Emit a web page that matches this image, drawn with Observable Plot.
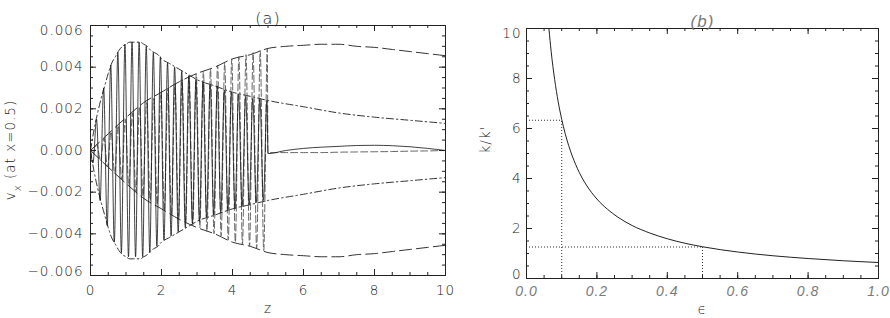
<!DOCTYPE html>
<html><head><meta charset="utf-8">
<script src="https://cdn.jsdelivr.net/npm/d3@7"></script>
<script src="https://cdn.jsdelivr.net/npm/@observablehq/plot@0.6"></script>
<style>
html,body{margin:0;padding:0;background:#fff;width:890px;height:318px;overflow:hidden}
#a{position:absolute;left:0;top:0}
#b{position:absolute;left:470px;top:0}
</style></head><body>
<div id="a"></div><div id="b"></div>
<script>
// ---------- Panel (a) data ----------
// solid oscillation (extrema)
const solidZ = [0, 0.07, 0.17, 0.27, 0.37, 0.47, 0.57, 0.67, 0.77, 0.87, 0.97, 1.07, 1.17, 1.27, 1.37, 1.47, 1.57, 1.67, 1.77, 1.87, 1.97, 2.07, 2.17, 2.27, 2.37, 2.47, 2.57, 2.67, 2.77, 2.87, 2.97, 3.07, 3.17, 3.27, 3.37, 3.47, 3.57, 3.67, 3.77, 3.87, 3.97, 4.07, 4.17, 4.27, 4.37, 4.47, 4.57, 4.67, 4.77, 4.87, 4.97];
const solidV = [0, -0.0006, 0.0015, -0.0024, 0.0030, -0.0036, 0.0041, -0.0044, 0.0047, -0.0049, 0.0051, -0.0051, 0.0052, -0.0051, 0.0052, -0.0051, 0.0050, -0.0049, 0.0047, -0.0046, 0.0045, -0.0043, 0.0042, -0.0041, 0.0040, -0.0039, 0.0038, -0.0037, 0.0036, -0.0035, 0.0034, -0.0034, 0.0033, -0.0032, 0.0032, -0.0031, 0.0031, -0.0030, 0.0029, -0.0029, 0.0028, -0.0028, 0.0027, -0.0027, 0.0026, -0.0026, 0.0025, -0.0025, 0.0025, -0.0024, 0.0024];
// dashed oscillation
const dashedZ = [0, 0.08, 0.18, 0.28, 0.38, 0.48, 0.58, 0.68, 0.78, 0.88, 0.98, 1.08, 1.18, 1.28, 1.38, 1.48, 1.58, 1.68, 1.78, 1.88, 1.98, 2.08, 2.18, 2.28, 2.38, 2.48, 2.58, 2.68, 2.78, 2.88, 2.98, 3.08, 3.18, 3.28, 3.38, 3.48, 3.58, 3.68, 3.78, 3.88, 3.98, 4.08, 4.18, 4.28, 4.38, 4.48, 4.58, 4.68, 4.78, 4.88, 4.98];
const dashedV = [0, -0.0001, 0.0003, -0.0005, 0.0006, -0.0008, 0.0009, -0.0011, 0.0012, -0.0014, 0.0015, -0.0017, 0.0018, -0.0020, 0.0021, -0.0022, 0.0023, -0.0024, 0.0025, -0.0026, 0.0028, -0.0029, 0.0030, -0.0031, 0.0032, -0.0033, 0.0034, -0.0035, 0.0035, -0.0036, 0.0037, -0.0037, 0.0038, -0.0039, 0.0039, -0.0040, 0.0041, -0.0041, 0.0042, -0.0043, 0.0044, -0.0044, 0.0045, -0.0045, 0.0046, -0.0046, 0.0047, -0.0047, 0.0048, -0.0048, 0.0049];
// tails beyond z = 5
const tailZ = [5.0, 5.5, 6.0, 6.5, 7.0, 7.5, 8.0, 8.5, 9.0, 9.5, 10.0];
const solidTailV = [-0.00015, 0.0, 0.0001, 0.00016, 0.0002, 0.00024, 0.00025, 0.00023, 0.00018, 0.0001, 0.0];
const dashedTailV = [-0.0001, -0.0001, -0.0001, -0.0001, -0.00008, -0.00007, -0.00006, -0.00005, -0.00003, -0.00002, 0.0];
// envelope A (dash-dot)
const envAZ = [0, 0.1, 0.2, 0.3, 0.4, 0.5, 0.6, 0.7, 0.8, 0.9, 1.0, 1.1, 1.2, 1.3, 1.4, 1.5, 1.6, 1.7, 1.8, 1.9, 2.0, 2.2, 2.4, 2.6, 2.8, 3.0, 3.5, 4.0, 4.5, 5.0, 6, 7, 8, 9, 10];
const envAV = [0, 0.0010, 0.0018, 0.0025, 0.0031, 0.0037, 0.0042, 0.0045, 0.0048, 0.0050, 0.0051, 0.0052, 0.0052, 0.0052, 0.0052, 0.0051, 0.0050, 0.0048, 0.0047, 0.0046, 0.0044, 0.0042, 0.0040, 0.0038, 0.0036, 0.0034, 0.0031, 0.0028, 0.0026, 0.0024, 0.0021, 0.0018, 0.0016, 0.00145, 0.0013];
// envelope B (long dash)
const envBZ = [0, 0.5, 1.0, 1.5, 2.0, 2.5, 3.0, 3.5, 4.0, 4.5, 5.0, 5.5, 6.0, 6.5, 7.0, 7.5, 8.0, 8.5, 9.0, 9.5, 10];
const envBV = [0, 0.0008, 0.00158, 0.0023, 0.0028, 0.0033, 0.0037, 0.0040, 0.0044, 0.0046, 0.0049, 0.0050, 0.00505, 0.0051, 0.0051, 0.0050, 0.00495, 0.00485, 0.00475, 0.00465, 0.00455];
// ticks (a)
const aXTicks = [0, 2, 4, 6, 8, 10];
const aXLabels = ["0", "2", "4", "6", "8", "10"];
const aYTicks = [-0.006, -0.004, -0.002, 0, 0.002, 0.004, 0.006];
const aYLabels = ["\u22120.006", "\u22120.004", "\u22120.002", "0.000", "0.002", "0.004", "0.006"];

// ---------- Panel (b) data ----------
const eps = [0.0637, 0.07, 0.08, 0.09, 0.10, 0.11, 0.12, 0.13, 0.14, 0.15, 0.17, 0.20, 0.23, 0.26, 0.30, 0.35, 0.40, 0.45, 0.50, 0.60, 0.70, 0.80, 0.90, 1.00];
const kRatio = [10.0, 9.09, 7.96, 7.07, 6.37, 5.79, 5.31, 4.90, 4.55, 4.24, 3.74, 3.18, 2.77, 2.45, 2.12, 1.82, 1.59, 1.41, 1.27, 1.06, 0.91, 0.80, 0.71, 0.64];
const markEps = [0.1, 0.5];
const markK = [6.33, 1.26];
const bXTicks = [0, 0.2, 0.4, 0.6, 0.8, 1.0];
const bXLabels = ["0.0", "0.2", "0.4", "0.6", "0.8", "1.0"];
const bYTicks = [0, 2, 4, 6, 8, 10];
const bYLabels = ["0", "2", "4", "6", "8", "10"];

// ---------- helpers ----------
const ink = "#222";
const txt = "#222";
const pts = (zs, vs) => zs.map((z, i) => ({z, v: vs[i]}));
function frameTicks(xMaj, xMin, yMaj, yMin, W, H) {
  const M = 6, m = 3, o = {stroke: ink, strokeWidth: 1};
  return [
    Plot.ruleX(xMaj, {x: d => d, insetTop: H - M, ...o}),
    Plot.ruleX(xMin, {x: d => d, insetTop: H - m, ...o}),
    Plot.ruleX(xMaj, {x: d => d, insetBottom: H - M, ...o}),
    Plot.ruleX(xMin, {x: d => d, insetBottom: H - m, ...o}),
    Plot.ruleY(yMaj, {y: d => d, insetRight: W - M, ...o}),
    Plot.ruleY(yMin, {y: d => d, insetRight: W - m, ...o}),
    Plot.ruleY(yMaj, {y: d => d, insetLeft: W - M, ...o}),
    Plot.ruleY(yMin, {y: d => d, insetLeft: W - m, ...o}),
    Plot.frame({stroke: ink, strokeWidth: 1})
  ];
}
const fontStyle = {fontFamily: "'DejaVu Sans', sans-serif", fontSize: "13.5px", fontWeight: "300", letterSpacing: "1px", background: "#fff", color: txt, overflow: "visible"};
const italicText = {fontFamily: "'Liberation Sans', sans-serif", fontStyle: "italic", fontWeight: "normal", fill: "#7a7a7a"};

// ---------- Panel (a) ----------
const aW = 470, aH = 318, aML = 90, aMR = 25, aMT = 25, aMB = 43;
const aPW = aW - aML - aMR, aPH = aH - aMT - aMB;
const aXMin = d3.range(0, 10.001, 0.5);
const aYMin = d3.range(-0.006, 0.00601, 0.0005);
const yMid = aYTicks.slice(1, -1);
const svgA = Plot.plot({
  width: aW, height: aH, marginLeft: aML, marginRight: aMR, marginTop: aMT, marginBottom: aMB,
  style: fontStyle,
  x: {domain: [0, 10], axis: null},
  y: {domain: [-0.006, 0.006], axis: null},
  marks: [
    Plot.line(pts(envAZ, envAV), {x: "z", y: "v", curve: "monotone-x", stroke: "#333", strokeWidth: 1, strokeDasharray: "7,3,1.5,3"}),
    Plot.line(pts(envAZ, envAV.map(v => -v)), {x: "z", y: "v", curve: "monotone-x", stroke: "#333", strokeWidth: 1, strokeDasharray: "7,3,1.5,3"}),
    Plot.line(pts(envBZ, envBV), {x: "z", y: "v", curve: "monotone-x", stroke: "#333", strokeWidth: 1, strokeDasharray: "12,5"}),
    Plot.line(pts(envBZ, envBV.map(v => -v)), {x: "z", y: "v", curve: "monotone-x", stroke: "#333", strokeWidth: 1, strokeDasharray: "12,5"}),
    Plot.line(pts(dashedZ, dashedV).concat(pts(tailZ, dashedTailV)), {x: "z", y: "v", curve: "monotone-x", stroke: "#555", strokeWidth: 0.9, strokeDasharray: "7,3"}),
    Plot.line(pts(solidZ, solidV).concat(pts(tailZ, solidTailV)), {x: "z", y: "v", curve: "monotone-x", stroke: "#111", strokeWidth: 0.8}),
    ...frameTicks(aXTicks, aXMin, aYTicks, aYMin, aPW, aPH),
    Plot.text(aXTicks, {x: d => d, text: (d, i) => aXLabels[i], frameAnchor: "bottom", dy: 19, fill: txt}),
    Plot.text(yMid, {y: d => d, text: (d, i) => aYLabels[i + 1], frameAnchor: "left", dx: -7, textAnchor: "end", fill: txt}),
    Plot.text([aYTicks[0]], {y: d => d, text: [aYLabels[0]], frameAnchor: "left", dx: -7, dy: -4, textAnchor: "end", fill: txt}),
    Plot.text([aYTicks[6]], {y: d => d, text: [aYLabels[6]], frameAnchor: "left", dx: -7, dy: 5, textAnchor: "end", fill: txt}),
    Plot.text(["(a)"], {text: d => d, frameAnchor: "top", dy: -13, fontSize: 16, fill: txt}),
    Plot.text(["z"], {text: d => d, frameAnchor: "bottom", dy: 37, fill: txt})
  ]
});
const yl = d3.select(svgA).append("text")
  .attr("transform", `translate(15,${aMT + aPH / 2}) rotate(-90)`)
  .attr("text-anchor", "middle").attr("fill", txt);
yl.append("tspan").text("v");
yl.append("tspan").attr("dy", 6).attr("font-size", "10px").text("x");
yl.append("tspan").attr("dy", -6).text(" (at x=0.5)");
document.getElementById("a").appendChild(svgA);

// ---------- Panel (b) ----------
const bW = 420, bH = 318, bML = 56, bMR = 12, bMT = 28, bMB = 40;
const bPW = bW - bML - bMR, bPH = bH - bMT - bMB;
const bXMin = d3.range(0, 1.0001, 0.05);
const bYMin = d3.range(0, 10.001, 0.5);
const svgB = Plot.plot({
  width: bW, height: bH, marginLeft: bML, marginRight: bMR, marginTop: bMT, marginBottom: bMB,
  style: fontStyle,
  x: {domain: [0, 1], axis: null},
  y: {domain: [0, 10], axis: null},
  marks: [
    Plot.ruleX(markEps, {x: d => d, y1: 0, y2: (d, i) => markK[i], stroke: "#333", strokeDasharray: "1,2"}),
    Plot.ruleY(markK, {y: d => d, x1: 0, x2: (d, i) => markEps[i], stroke: "#333", strokeDasharray: "1,2"}),
    Plot.line(pts(eps, kRatio), {x: "z", y: "v", curve: "monotone-x", stroke: "#222", strokeWidth: 1}),
    ...frameTicks(bXTicks, bXMin, bYTicks, bYMin, bPW, bPH),
    Plot.text(bXTicks, {x: d => d, text: (d, i) => bXLabels[i], frameAnchor: "bottom", dy: 17, fontSize: 14, ...italicText}),
    Plot.text(bYTicks.slice(1, -1), {y: d => d, text: (d, i) => bYLabels[i + 1], frameAnchor: "left", dx: -5, textAnchor: "end", fill: txt}),
    Plot.text([bYTicks[0]], {y: d => d, text: [bYLabels[0]], frameAnchor: "left", dx: -5, dy: -4, textAnchor: "end", fill: txt}),
    Plot.text([bYTicks[5]], {y: d => d, text: [bYLabels[5]], frameAnchor: "left", dx: -5, dy: 5, textAnchor: "end", fill: txt}),
    Plot.text(["(b)"], {text: d => d, frameAnchor: "top", dy: -14, fontSize: 17, ...italicText}),
    Plot.text(["\u03F5"], {text: d => d, frameAnchor: "bottom", dy: 35, fill: txt}),
    Plot.text(["k/k'"], {text: d => d, frameAnchor: "left", dx: -41, rotate: -90, fill: txt})
  ]
});
document.getElementById("b").appendChild(svgB);
</script>
</body></html>
